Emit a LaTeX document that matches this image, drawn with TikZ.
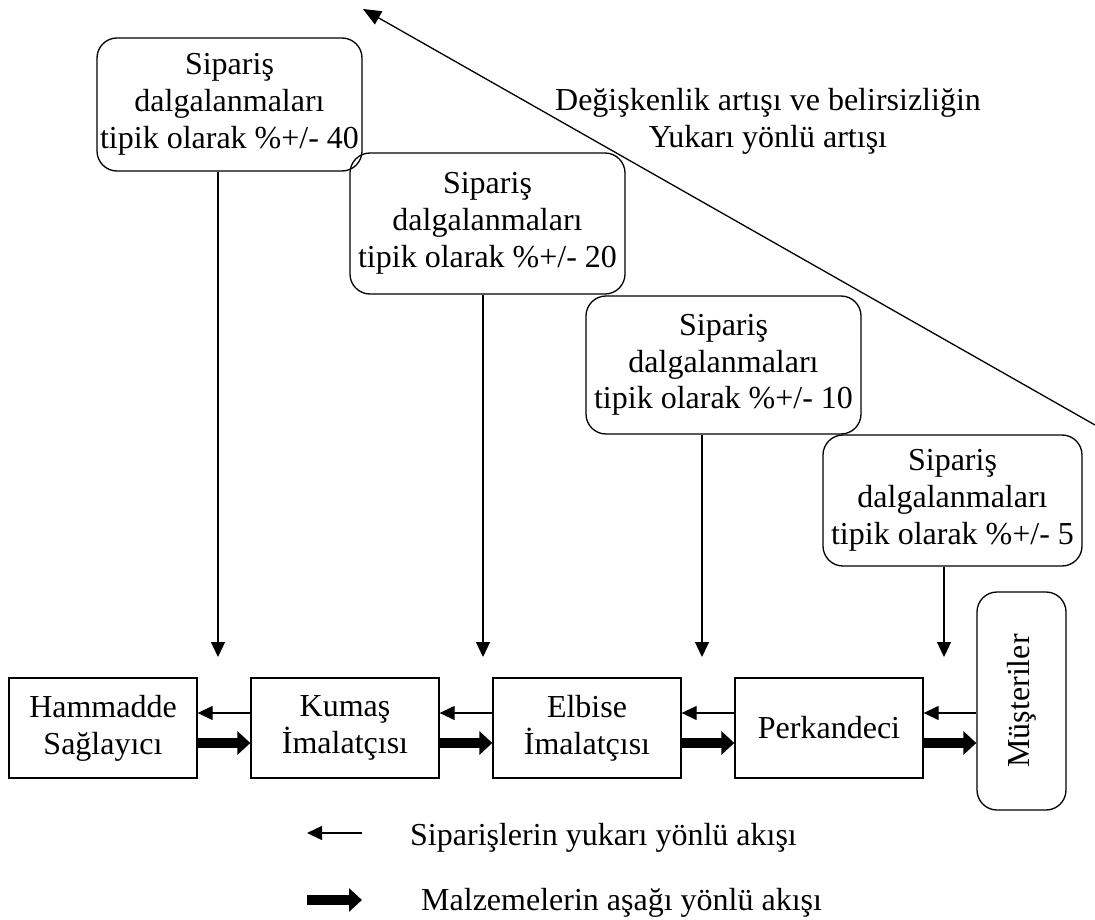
\documentclass[tikz,border=0pt]{standalone}
\usepackage{fontspec}
\setmainfont{Liberation Serif}
\usetikzlibrary{arrows.meta}

\tikzset{
  every node/.style={font=\fontsize{32}{36.8}\selectfont},
  topbox/.style={draw, line width=1.3pt, rounded corners=20pt, inner sep=0pt, align=center},
  unitbox/.style={draw, line width=1.3pt, minimum width=188pt, minimum height=100pt, inner sep=0pt, align=center},
  custbox/.style={draw, line width=1.3pt, rounded corners=20pt, rotate=90, minimum width=218pt, minimum height=89pt, inner sep=0pt},
  ordarrow/.style={line width=1.3pt, -{Triangle[length=15pt,width=14pt]}},
  matarrow/.style={line width=10.5pt, -{Triangle[length=13pt,width=23pt]}},
  legtext/.style={anchor=base west, inner sep=0pt}
}

\begin{document}
\begin{tikzpicture}[x=1pt,y=-1pt]
  \useasboundingbox (0,0) rectangle (1095,920);

  % order-fluctuation boxes, stepping down towards the customer
  \node[topbox, minimum width=265pt, minimum height=133pt] (o1) at (229.5,104.5)
    {Sipariş\\dalgalanmaları\\tipik olarak \%+/- 40};
  \node[topbox, minimum width=275pt, minimum height=141pt] (o2) at (487.5,223.5)
    {Sipariş\\dalgalanmaları\\tipik olarak \%+/- 20};
  \node[topbox, minimum width=275pt, minimum height=138pt] (o3) at (723.5,365)
    {Sipariş\\dalgalanmaları\\tipik olarak \%+/- 10};
  \node[topbox, minimum width=259pt, minimum height=131pt] (o4) at (952.5,500.5)
    {Sipariş\\dalgalanmaları\\tipik olarak \%+/- 5};

  % supply chain stages
  \node[unitbox] (ham)  at (103,728) {Hammadde\\Sağlayıcı};
  \node[unitbox] (kum)  at (345,728) {Kumaş\\İmalatçısı};
  \node[unitbox] (elb)  at (587,728) {Elbise\\İmalatçısı};
  \node[unitbox] (perk) at (829,728) {Perkandeci};
  % rotated node: its north side faces left
  \node[custbox] (mus)  at (1021.5,701) {Müşteriler};

  % arrows from the fluctuation boxes down to the links
  \coordinate (t1) at (218,657);
  \coordinate (t2) at (483,657);
  \coordinate (t3) at (702,657);
  \coordinate (t4) at (944,657);
  \draw[ordarrow] (o1.south -| t1) -- (t1);
  \draw[ordarrow] (o2.south -| t2) -- (t2);
  \draw[ordarrow] (o3.south -| t3) -- (t3);
  \draw[ordarrow] (o4.south -| t4) -- (t4);

  % orders flow upstream (thin), materials flow downstream (thick)
  \draw[ordarrow] ([yshift=15pt]kum.west) -- ([yshift=15pt]ham.east);
  \draw[ordarrow] ([yshift=15pt]elb.west) -- ([yshift=15pt]kum.east);
  \draw[ordarrow] ([yshift=15pt]perk.west) -- ([yshift=15pt]elb.east);
  \draw[ordarrow] ([yshift=15pt]perk.east -| mus.north) -- ([yshift=15pt]perk.east);

  \draw[matarrow] ([yshift=-15pt]ham.east) -- ([yshift=-15pt]kum.west);
  \draw[matarrow] ([yshift=-15pt]kum.east) -- ([yshift=-15pt]elb.west);
  \draw[matarrow] ([yshift=-15pt]elb.east) -- ([yshift=-15pt]perk.west);
  \draw[matarrow] ([yshift=-15pt]perk.east) -- ([yshift=-15pt]perk.east -| mus.north);

  % rising variability
  \coordinate (dstart) at (1095,425);
  \coordinate (dtip) at (363,9);
  \draw[line width=1.3pt, -{Triangle[length=18pt,width=15pt]}] (dstart) -- (dtip);
  \node[anchor=north, inner sep=0pt, align=center] (var) at (768,88)
    {Değişkenlik artışı ve belirsizliğin\\Yukarı yönlü artışı};

  % legend
  \coordinate (la1) at (362,833);
  \coordinate (lb1) at (307,833);
  \coordinate (la2) at (307,900);
  \coordinate (lb2) at (362,900);
  \draw[ordarrow] (la1) -- (lb1);
  \draw[matarrow] (la2) -- (lb2);
  \node[legtext] (leg1) at (410,845) {Siparişlerin yukarı yönlü akışı};
  \node[legtext] (leg2) at (421,910) {Malzemelerin aşağı yönlü akışı};
\end{tikzpicture}
\end{document}
